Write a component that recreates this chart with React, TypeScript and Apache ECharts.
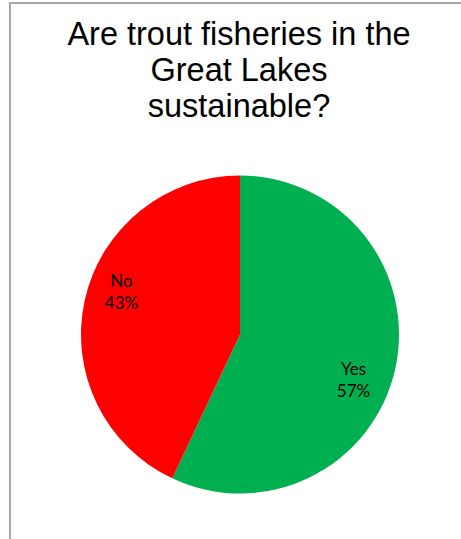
import React, { useEffect, useRef } from "react";
import * as echarts from "echarts";

const titleText = "Are trout fisheries in the\nGreat Lakes\nsustainable?";
const categories = ["Yes", "No"];
const values = [57, 43];
const colors = ["#00B050", "#FF0000"];
const labelShift = [
  { dx: 33, dy: 27 },
  { dx: -38, dy: -25 },
];

export default function App() {
  const ref = useRef<HTMLDivElement>(null);
  useEffect(() => {
    document.body.style.margin = "0";
    const chart = echarts.init(ref.current!, null, { renderer: "svg" });
    chart.setOption({
      animation: false,
      backgroundColor: "#ffffff",
      graphic: [
        {
          type: "polyline",
          shape: {
            points: [
              [10, 545],
              [10, 3],
              [470, 3],
            ],
          },
          style: { stroke: "#a8a8a8", lineWidth: 2, fill: "none" },
          silent: true,
        },
        {
          type: "text",
          x: 239,
          y: 16,
          silent: true,
          style: {
            text: titleText,
            fontFamily: "Liberation Sans, Arial, sans-serif",
            fontSize: 32.5,
            fontWeight: "normal",
            lineHeight: 36,
            fill: "#000000",
            align: "center",
            verticalAlign: "top",
          },
        },
      ],
      series: [
        {
          type: "pie",
          center: [240, 334.5],
          radius: 159,
          startAngle: 90,
          clockwise: true,
          avoidLabelOverlap: false,
          emphasis: { disabled: true },
          itemStyle: { borderWidth: 0 },
          label: {
            show: true,
            position: "inside",
            formatter: "{b}\n{d}%",
            fontFamily: "Lato, Carlito, sans-serif",
            fontSize: 17,
            lineHeight: 22,
            color: "#000000",
          },
          labelLine: { show: false },
          labelLayout: (params: any) => labelShift[params.dataIndex],
          data: categories.map((c, i) => ({
            name: c,
            value: values[i],
            itemStyle: { color: colors[i] },
          })),
        },
      ],
    });
    return () => chart.dispose();
  }, []);
  return <div ref={ref} style={{ width: 461, height: 539 }} />;
}
